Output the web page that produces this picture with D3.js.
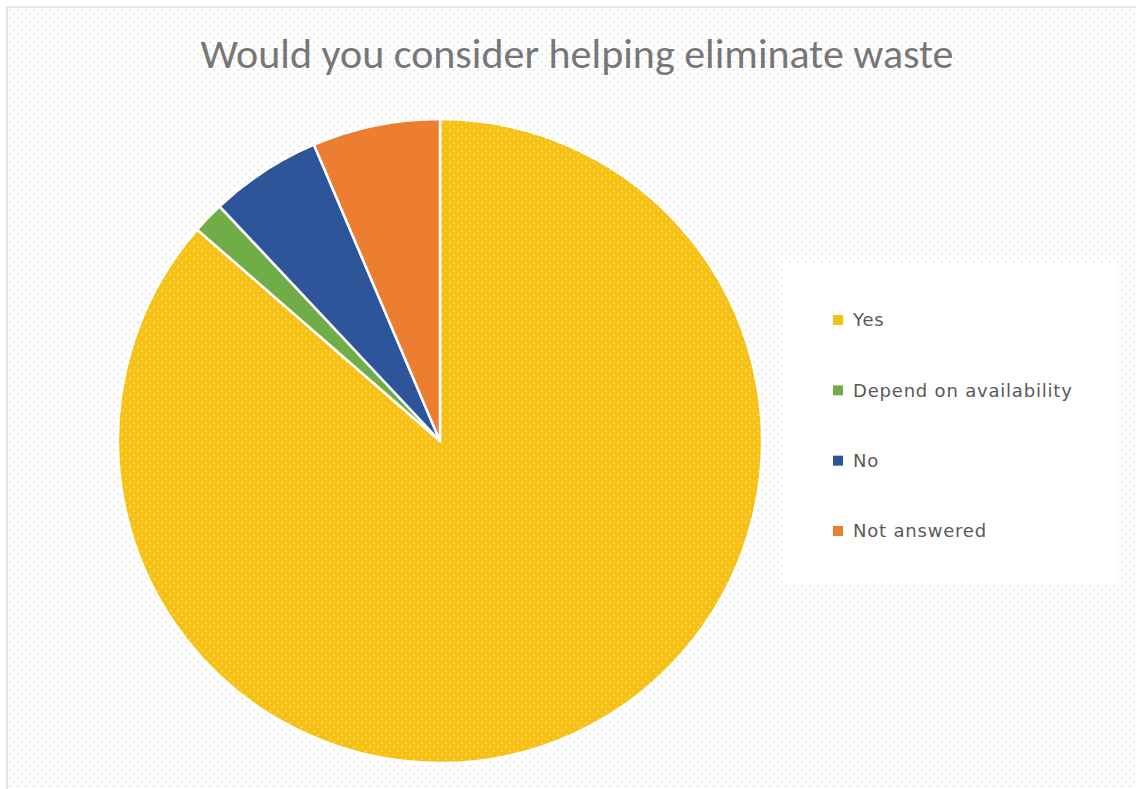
<!DOCTYPE html>
<html>
<head>
<meta charset="utf-8">
<script src="https://cdn.jsdelivr.net/npm/d3@7"></script>
<style>
  html, body { margin: 0; padding: 0; background: #fff; }
  svg { display: block; }
</style>
</head>
<body>
<svg id="chart" width="1136" height="789"></svg>
<script>
// Survey responses (count of respondents)
const categories = ["Yes", "Depend on availability", "No", "Not answered"];
const counts = [108, 2, 7, 8];
const colors = ["#F6C014", "#70AD47", "#2E549A", "#ED7D31"];
const title = "Would you consider helping eliminate waste";

const svg = d3.select("#chart");
const W = 1136, H = 789;

const defs = svg.append("defs");
// faint dotted texture of the chart area
const bg = defs.append("pattern").attr("id", "bgDots")
  .attr("width", 8).attr("height", 8).attr("patternUnits", "userSpaceOnUse");
bg.append("rect").attr("width", 8).attr("height", 8).attr("fill", "#ffffff");
bg.append("circle").attr("cx", 2).attr("cy", 2).attr("r", 0.9).attr("fill", "#dedede");
bg.append("circle").attr("cx", 6).attr("cy", 6).attr("r", 0.9).attr("fill", "#dedede");

// dotted texture used on the largest slice
const yp = defs.append("pattern").attr("id", "yesDots")
  .attr("width", 8).attr("height", 8).attr("patternUnits", "userSpaceOnUse");
yp.append("rect").attr("width", 8).attr("height", 8).attr("fill", colors[0]);
yp.append("circle").attr("cx", 2).attr("cy", 2).attr("r", 1).attr("fill", "#FAD65A");
yp.append("circle").attr("cx", 6).attr("cy", 6).attr("r", 1).attr("fill", "#FAD65A");

// chart area with top/left frame
svg.append("rect").attr("x", 7).attr("y", 7).attr("width", W).attr("height", H)
  .attr("fill", "url(#bgDots)");
svg.append("path").attr("d", `M7,${H} V7 H${W}`)
  .attr("fill", "none").attr("stroke", "#d0d0d0").attr("stroke-width", 1.2);

// title
svg.append("text")
  .attr("x", 577).attr("y", 68)
  .attr("text-anchor", "middle")
  .attr("font-family", "Carlito, Calibri, 'Open Sans', sans-serif")
  .attr("font-size", 42)
  .attr("fill", "#777777")
  .text(title);

// pie
const cx = 440, cy = 441, R = 322;
const pie = d3.pie().sort(null).value(d => d)(counts);
const arc = d3.arc().innerRadius(0).outerRadius(R);

const g = svg.append("g").attr("transform", `translate(${cx},${cy})`);
g.selectAll("path").data(pie).join("path")
  .attr("d", arc)
  .attr("fill", (d, i) => i === 0 ? "url(#yesDots)" : colors[i])
  .attr("stroke", "#ffffff")
  .attr("stroke-width", 2.5)
  .attr("stroke-linejoin", "round");

// legend
const lg = svg.append("g");
lg.append("rect").attr("x", 782).attr("y", 262).attr("width", 336).attr("height", 322)
  .attr("fill", "#ffffff");
const y = d3.scalePoint().domain(categories).range([320, 531]);
const items = lg.selectAll("g.item").data(categories).join("g")
  .attr("class", "item")
  .attr("transform", d => `translate(0,${y(d)})`);
items.append("rect")
  .attr("x", 833).attr("y", -5).attr("width", 10).attr("height", 10)
  .attr("fill", (d, i) => colors[i]);
items.append("text")
  .attr("x", 853).attr("y", 0).attr("dy", "0.36em")
  .attr("font-family", "'DejaVu Sans', 'Noto Sans', sans-serif")
  .attr("font-size", 18)
  .attr("letter-spacing", 0.8)
  .attr("fill", "#595959")
  .text(d => d);
</script>
</body>
</html>
